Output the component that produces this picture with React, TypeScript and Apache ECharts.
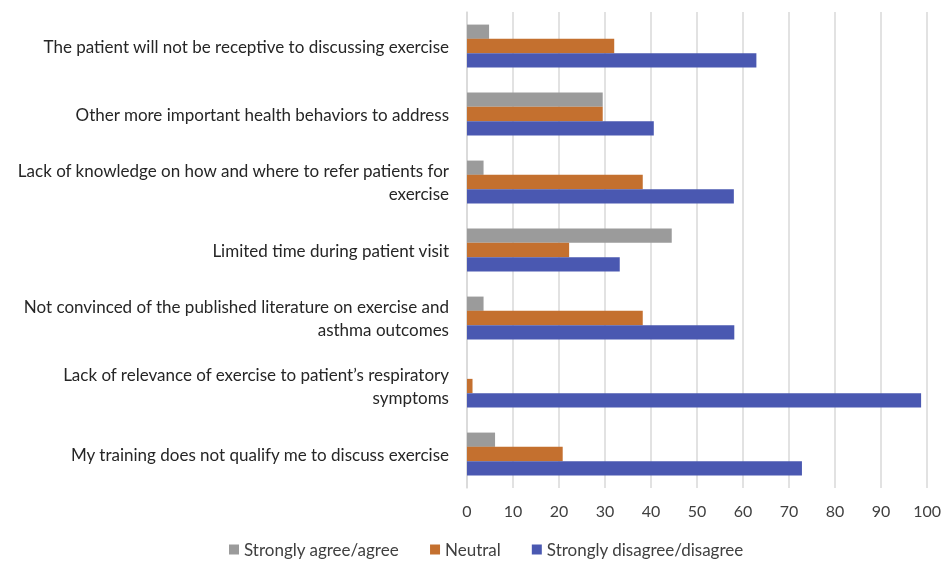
import React, { useEffect, useRef } from "react";
import * as echarts from "echarts";

const categories = [
  "The patient will not be receptive to discussing exercise",
  "Other more important health behaviors to address",
  "Lack of knowledge on how and where to refer patients for\nexercise",
  "Limited time during patient visit",
  "Not convinced of the published literature on exercise and\nasthma outcomes",
  "Lack of relevance of exercise to patient\u2019s respiratory\nsymptoms",
  "My training does not qualify me to discuss exercise",
];

const seriesNames = ["Strongly agree/agree", "Neutral", "Strongly disagree/disagree"];
const agreeValues = [4.8, 29.5, 3.6, 44.5, 3.6, 0, 6.1];
const neutralValues = [32.0, 29.5, 38.2, 22.2, 38.2, 1.2, 20.8];
const disagreeValues = [62.9, 40.6, 58.0, 33.2, 58.1, 98.7, 72.8];
const xTicks = [0, 10, 20, 30, 40, 50, 60, 70, 80, 90, 100];

const colors = ["#9B9B9B", "#C4702F", "#4A58B1"];

export default function App() {
  const ref = useRef<HTMLDivElement>(null);
  useEffect(() => {
    if (!ref.current) return;
    const chart = echarts.init(ref.current, undefined, { renderer: "svg" });
    const font = "Lato, 'Open Sans', sans-serif";
    const data = [agreeValues, neutralValues, disagreeValues];
    chart.setOption({
      animation: false,
      textStyle: { fontFamily: font },
      grid: { left: 467, right: 10, top: 12, bottom: 75, containLabel: false },
      legend: {
        top: 541,
        left: 229,
        padding: 0,
        itemWidth: 10,
        itemHeight: 10,
        itemGap: 31,
        icon: "rect",
        textStyle: { fontSize: 17, color: "#404040", fontFamily: font },
        data: seriesNames,
      },
      xAxis: {
        type: "value",
        min: xTicks[0],
        max: xTicks[xTicks.length - 1],
        interval: 10,
        axisLine: { show: false },
        axisTick: { show: false },
        splitLine: { show: true, lineStyle: { color: "#D9D9D9", width: 1.5 } },
        axisLabel: { fontSize: 16, color: "#404040", margin: 14, fontFamily: font },
      },
      yAxis: {
        type: "category",
        inverse: true,
        data: categories,
        axisLine: { show: true, lineStyle: { color: "#D9D9D9", width: 1.5 } },
        axisTick: { show: false },
        axisLabel: {
          fontSize: 17,
          color: "#262626",
          margin: 18,
          lineHeight: 23,
          align: "right",
          fontFamily: font,
        },
      },
      series: seriesNames.map((name, i) => ({
        name,
        type: "bar",
        data: data[i],
        barGap: "0%",
        barCategoryGap: "37%",
        itemStyle: { color: colors[i] },
      })),
    });
    return () => chart.dispose();
  }, []);
  return (
    <div
      ref={ref}
      style={{ position: "fixed", left: 0, top: 0, width: 944, height: 563 }}
    />
  );
}
